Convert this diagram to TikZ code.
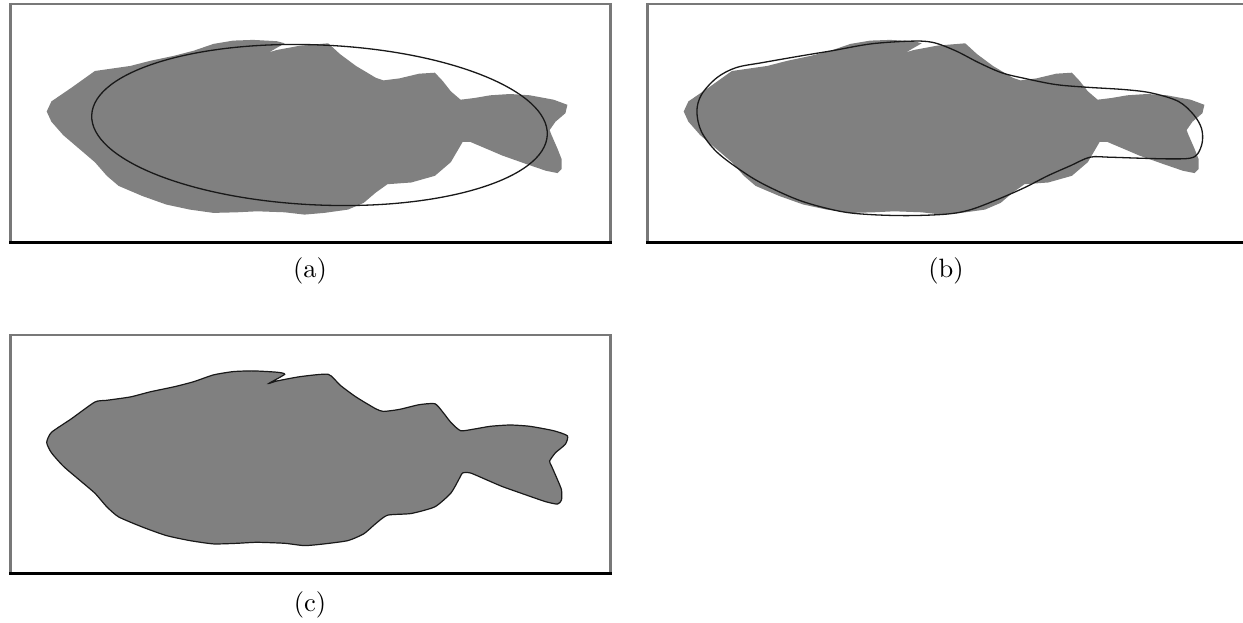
\documentclass[tikz,border=0pt]{standalone}
\usepackage{tikz}

\definecolor{fishgray}{RGB}{128,128,128}
\definecolor{framegray}{RGB}{120,120,120}
\definecolor{fitline}{RGB}{25,25,25}

% silhouette of the fish, in pixel units of panel (a)
\newcommand\fishshape[2]{%
  \path[#1] plot[#2] coordinates {
    (46.7,111.5) (51.4,101.4) (71.2,87.9) (94.9,71.0) (106.8,69.3) (130.5,65.9)
    (150.3,60.8) (174.0,55.8) (193.7,50.7) (213.5,43.9) (233.3,40.6) (253.1,39.9)
    (276.8,41.2) (284.7,43.3) (268.9,52.4) (276.8,50.0) (300.5,45.6) (328.2,43.3)
    (340.0,54.1) (355.9,65.9) (375.6,77.7) (383.5,80.4) (399.4,78.4) (419.1,73.7)
    (434.9,72.7) (442.8,81.1) (450.8,91.3) (460.6,99.7) (474.5,98.0) (490.3,95.3)
    (510.1,94.0) (529.8,95.3) (553.6,99.7) (567.4,104.8) (565.4,113.2) (555.5,121.7)
    (549.6,130.1) (551.6,135.2) (557.5,148.7) (561.5,158.9) (561.5,169.0) (557.5,173.1)
    (545.7,170.7) (525.9,163.9) (502.2,155.5) (486.3,148.7) (470.5,142.0) (462.6,142.0)
    (458.7,148.7) (450.8,162.2) (434.9,175.8) (411.2,182.5) (387.5,184.2) (375.6,192.7)
    (363.8,202.8) (348.0,209.6) (324.2,212.9) (304.5,214.6) (284.7,212.3) (257.0,211.3)
    (237.2,212.3) (213.5,212.9) (189.8,209.6) (166.1,204.5) (142.3,196.0) (118.6,185.9)
    (106.8,175.8) (94.9,162.2) (79.1,148.7) (63.3,135.2) (51.4,121.7)};}

% framed panel, top-left corner at (9,3) before shifting
\newcommand\panelframe{%
  \fill[white] (9,3) rectangle (612,243);
  \draw[framegray, line width=2.5pt] (9,4.2) -- (612,4.2);
  \draw[framegray, line width=3pt] (10.5,3) -- (10.5,243);
  \draw[framegray, line width=3pt] (610.5,3) -- (610.5,243);
  \draw[black, line width=3pt] (9,242) -- (612,242);}

\tikzset{
  caption/.style={font=\normalsize, scale=2.65, inner sep=0pt},
  fitcurve/.style={draw=fitline, line width=1.3pt},
}

\begin{document}
\begin{tikzpicture}[x=1pt, y=-1pt]
  \useasboundingbox (0,0) rectangle (1243,623);

  % (a) silhouette with a fitted ellipse
  \begin{scope}
    \panelframe
    \fishshape{fill=fishgray}{sharp cycle}
    \draw[fitcurve] (319.5,125) ellipse[x radius=228, y radius=80, rotate=-2.5];
  \end{scope}
  \node[caption] (capa) at (310,271) {(a)};

  % (b) silhouette with a closer fitted contour
  \begin{scope}
    \clip (0,0) rectangle (1243,623);
    \begin{scope}[shift={(637,0)}]
      \panelframe
      \fishshape{fill=fishgray}{sharp cycle}
      \draw[fitcurve] plot[smooth cycle, tension=0.55] coordinates {
        (59.9,111.5) (64.5,94.6) (79.9,77.7) (99.2,67.6) (126.1,62.5) (164.5,55.8)
        (195.3,50.7) (233.8,43.9) (272.2,41.2) (295.3,42.3) (318.4,50.7) (341.4,62.5)
        (364.5,72.7) (387.6,78.4) (418.4,84.5) (449.1,87.2) (487.6,89.6) (514.5,93.0)
        (541.4,101.4) (556.8,114.9) (564.5,128.4) (565.3,142.0) (560.7,153.8) (553.0,158.2)
        (533.7,158.9) (503.0,158.2) (472.2,157.2) (453.0,157.2) (433.7,165.6) (410.7,175.8)
        (387.6,187.6) (360.7,199.4) (333.8,209.6) (310.7,214.0) (272.2,215.6) (233.8,214.6)
        (203.0,211.3) (164.5,201.1) (129.9,185.9) (106.8,172.4) (79.9,152.1) (64.5,131.8)};
    \end{scope}
  \end{scope}
  \node[caption] (capb) at (946,271) {(b)};

  % (c) silhouette traced by its own outline
  \begin{scope}[shift={(0,331)}]
    \panelframe
    \fishshape{fill=fishgray, draw=fitline, line width=1.2pt}{smooth cycle, tension=0.35}
  \end{scope}
  \node[caption] (capc) at (310,605) {(c)};
\end{tikzpicture}
\end{document}
